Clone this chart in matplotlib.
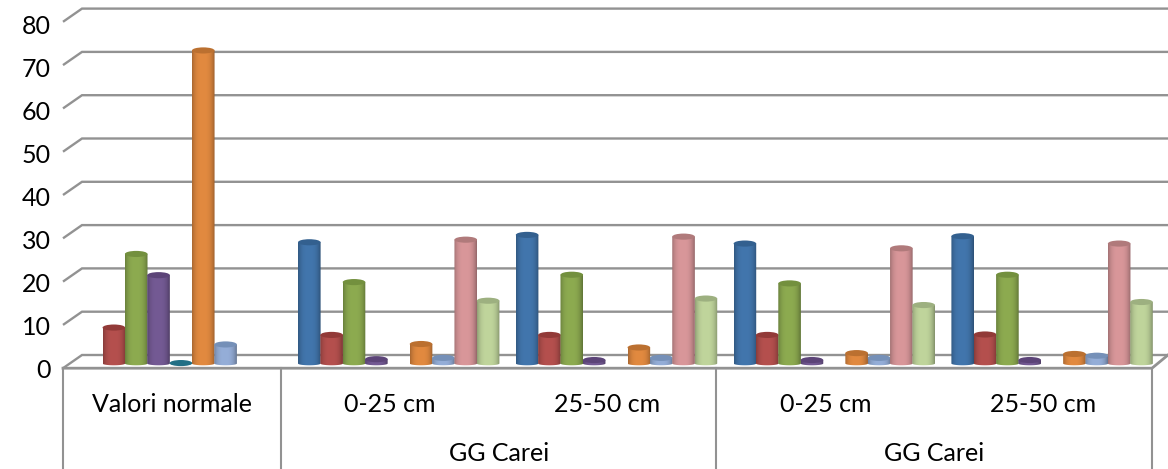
import numpy as np
import matplotlib
matplotlib.use("Agg")
import matplotlib.pyplot as plt
from matplotlib.patches import Ellipse, PathPatch
from matplotlib.path import Path
from matplotlib.colors import to_rgb

plt.rcParams['font.family'] = ['Lato', 'DejaVu Sans']

# ---- data ----
y_ticks = [0, 10, 20, 30, 40, 50, 60, 70, 80]
sub_labels = ['Valori normale', '0-25 cm', '25-50 cm', '0-25 cm', '25-50 cm']
group_labels = ['GG Carei', 'GG Carei']
s_blue = [None, 28.0, 29.7, 27.7, 29.4]
s_red = [8.3, 6.6, 6.6, 6.6, 6.7]
s_green = [25.3, 18.8, 20.5, 18.5, 20.5]
s_purple = [20.4, 1.0, 0.8, 0.8, 0.8]
s_teal = [0.1, None, None, None, None]
s_orange = [72.3, 4.5, 3.7, 2.4, 2.2]
s_ltblue = [4.4, 1.3, 1.3, 1.3, 1.8]
s_pink = [None, 28.6, 29.3, 26.6, 27.7]
s_ltgreen = [None, 14.5, 15.0, 13.5, 14.2]
series = [s_blue, s_red, s_green, s_purple, s_teal, s_orange, s_ltblue, s_pink, s_ltgreen]
colors = ['#4276ad', '#b5504e', '#8dab50', '#745a94', '#2f8fa8', '#e28a40', '#95aed8', '#d9979a', '#c0d59c']
tops = ['#33608f', '#923a38', '#73903e', '#5c4478', '#216f85', '#bb7030', '#7590b8', '#b07a7b', '#9db080']

W, H = 1168, 469
PX = 4.33               # pixels per value unit
BASE = 363.5            # pixel row of value 0 at the bar foot
CAT = 217.8             # pixels per category
LEFT = 63.0
SLOT = 22.35 / CAT
OFF0 = 28.5 / CAT
BAR_W = 22.6 / CAT
RY = 3.6 / PX

fig = plt.figure(figsize=(W / 100, H / 100), dpi=100, facecolor='white')
ax = fig.add_axes([0, 0, 1, 1])
xlim = (-LEFT / CAT, (W - LEFT) / CAT)
ylim = ((BASE - H) / PX, BASE / PX)
ax.axis('off')

GRID = '#929292'
dx_back = 19 / CAT
v_back = 8.5 / PX       # wall sits above the foot
v_front = -4.7 / PX     # front floor edge below the foot
right = 5.0 + 16 / CAT
for t in y_ticks:
    ax.plot([0, dx_back, right], [t + v_front, t + v_back, t + v_back],
            color=GRID, lw=1.7, zorder=1, solid_capstyle='butt', solid_joinstyle='miter')
# floor front edge and right side
ax.plot([0, 5.0, right], [v_front, v_front, v_back], color=GRID, lw=2.0, zorder=1)
# table dividers
for c in [0, 1, 3, 5]:
    ax.plot([c, c], [v_front, ylim[0]], color=GRID, lw=1.5, zorder=1)

# cylinders
def shade(col):
    rgb = np.array(to_rgb(col))
    u = np.linspace(0, 1, 64)
    f = 1.0 - 0.32 * np.clip(np.abs(u - 0.48) / 0.52, 0, 1) ** 3
    return np.clip(rgb[None, None, :] * f[None, :, None], 0, 1)

t_ell = np.linspace(np.pi, 2 * np.pi, 40)
for s_i, vals in enumerate(series):
    for c_i, v in enumerate(vals):
        if v is None:
            continue
        xc = c_i + OFF0 + SLOT * s_i
        hw = BAR_W / 2
        bx = xc + hw * np.cos(t_ell)
        by = RY * 0.5 * np.sin(t_ell)
        vx = np.concatenate([bx, [xc + hw, xc - hw, xc - hw]])
        vy = np.concatenate([by, [v, v, by[0]]])
        clip = PathPatch(Path(np.column_stack([vx, vy])), transform=ax.transData, fc='none', ec='none')
        ax.add_patch(clip)
        im = ax.imshow(shade(colors[s_i]), extent=(xc - hw, xc + hw, -RY, v), aspect='auto',
                       origin='lower', zorder=3 + s_i * 0.01, interpolation='bilinear')
        im.set_clip_path(clip)
        ax.add_patch(Ellipse((xc, v), BAR_W, 2 * RY * 0.85, fc=tops[s_i], ec='none',
                             zorder=3.005 + s_i * 0.01))

# text
FS = 18
for t in y_ticks:
    ax.text(-12 / CAT, t + v_front - 0.5 + 0.006 * (80 - t) * 0 - 0.006 * t, str(t), ha='right', va='center',
            fontsize=FS, color='black')
ROW1 = (BASE - 404) / PX
ROW2 = (BASE - 453.5) / PX
for c, lab in enumerate(sub_labels):
    ax.text(c + 0.5, ROW1, lab, ha='center', va='center', fontsize=FS, color='black')
for pos, lab in zip([2, 4], group_labels):
    ax.text(pos, ROW2, lab, ha='center', va='center', fontsize=FS, color='black')

ax.set_xlim(xlim)
ax.set_ylim(ylim)
fig.savefig('out.png', dpi=100, facecolor='white')
